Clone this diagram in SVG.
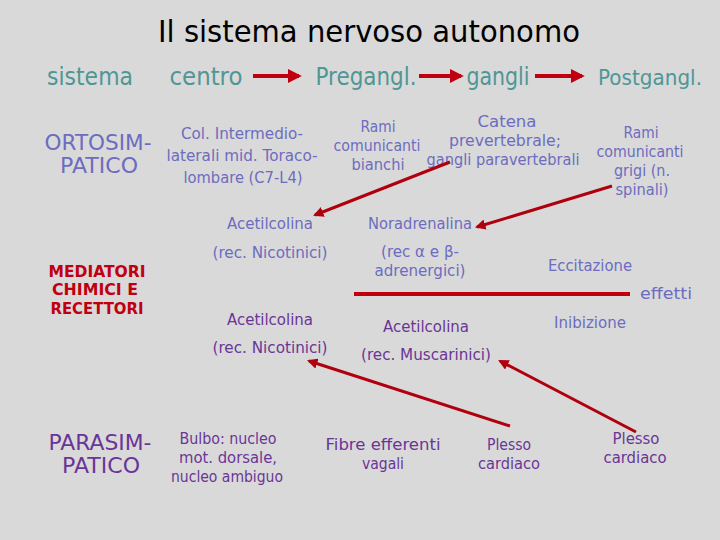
<svg xmlns="http://www.w3.org/2000/svg" width="720" height="540" viewBox="0 0 720 540">
<style>
text{font-family:"Comic Sans MS","DejaVu Sans",sans-serif;text-anchor:middle}
.title{font-size:31px;fill:#000}
.hd{font-size:24px;fill:#4f9696}
.bl{font-size:16px;fill:#6c6cc0}
.bl20{font-size:21px;fill:#6c6cc0}
.pu{font-size:16px;fill:#6a3596}
.pu20{font-size:21px;fill:#6a3596}
.rd{font-size:16px;fill:#c00010;font-weight:bold}
.ln{stroke:#b0000e;stroke-width:3;fill:none}
.big{stroke:#c0000e;stroke-width:4;fill:none}
</style>
<defs>
<marker id="ah" viewBox="0 0 10 10" refX="8" refY="5" markerWidth="3.5" markerHeight="3.5" orient="auto" markerUnits="strokeWidth">
<path d="M0,0 L10,5 L0,10 z" fill="#b0000e"/>
</marker>
<marker id="ahb" viewBox="0 0 10 10" refX="8" refY="5" markerWidth="3.5" markerHeight="3.5" orient="auto" markerUnits="strokeWidth">
<path d="M0,0 L10,5 L0,10 z" fill="#c0000e"/>
</marker>
</defs>
<rect width="720" height="540" fill="#d9d9d9"/>
<text class="title" x="369" y="42" textLength="422" lengthAdjust="spacingAndGlyphs">Il sistema nervoso autonomo</text>
<g id="header">
<text class="hd" x="90" y="85" textLength="86" lengthAdjust="spacingAndGlyphs">sistema</text>
<text class="hd" x="206" y="85" textLength="73" lengthAdjust="spacingAndGlyphs">centro</text>
<text class="hd" x="366" y="85" textLength="101" lengthAdjust="spacingAndGlyphs">Pregangl.</text>
<text class="hd" x="498" y="85" textLength="63" lengthAdjust="spacingAndGlyphs">gangli</text>
<text class="hd" x="650" y="85" style="font-size:22px" textLength="104" lengthAdjust="spacingAndGlyphs">Postgangl.</text>
</g>
<g id="ortosimpatico">
<text class="bl20" x="98" y="150" textLength="107" lengthAdjust="spacingAndGlyphs">ORTOSIM-</text>
<text class="bl20" x="99" y="173" textLength="78" lengthAdjust="spacingAndGlyphs">PATICO</text>
</g>
<g id="col-intermedio">
<text class="bl" x="242" y="139" textLength="122" lengthAdjust="spacingAndGlyphs">Col. Intermedio-</text>
<text class="bl" x="242" y="161" textLength="151" lengthAdjust="spacingAndGlyphs">laterali mid. Toraco-</text>
<text class="bl" x="243" y="183" textLength="119" lengthAdjust="spacingAndGlyphs">lombare (C7-L4)</text>
</g>
<g id="rami-bianchi">
<text class="bl" x="378" y="132" textLength="35" lengthAdjust="spacingAndGlyphs">Rami</text>
<text class="bl" x="377" y="151" textLength="87" lengthAdjust="spacingAndGlyphs">comunicanti</text>
<text class="bl" x="378" y="170" textLength="53" lengthAdjust="spacingAndGlyphs">bianchi</text>
</g>
<g id="catena">
<text class="bl" x="507" y="127" textLength="59" lengthAdjust="spacingAndGlyphs">Catena</text>
<text class="bl" x="505" y="146" textLength="112" lengthAdjust="spacingAndGlyphs">prevertebrale;</text>
<text class="bl" x="503" y="165" textLength="153" lengthAdjust="spacingAndGlyphs">gangli paravertebrali</text>
</g>
<g id="rami-grigi">
<text class="bl" x="641" y="138" textLength="35" lengthAdjust="spacingAndGlyphs">Rami</text>
<text class="bl" x="640" y="157" textLength="87" lengthAdjust="spacingAndGlyphs">comunicanti</text>
<text class="bl" x="642" y="176" textLength="56" lengthAdjust="spacingAndGlyphs">grigi (n.</text>
<text class="bl" x="642" y="195" textLength="53" lengthAdjust="spacingAndGlyphs">spinali)</text>
</g>
<g id="ach-orto">
<text class="bl" x="270" y="229" textLength="86" lengthAdjust="spacingAndGlyphs">Acetilcolina</text>
<text class="bl" x="270" y="258" textLength="115" lengthAdjust="spacingAndGlyphs">(rec. Nicotinici)</text>
</g>
<g id="noradrenalina">
<text class="bl" x="420" y="229" textLength="104" lengthAdjust="spacingAndGlyphs">Noradrenalina</text>
<text class="bl" x="420" y="257" textLength="78" lengthAdjust="spacingAndGlyphs">(rec α e β-</text>
<text class="bl" x="420" y="276" textLength="91" lengthAdjust="spacingAndGlyphs">adrenergici)</text>
</g>
<g id="effetti">
<text class="bl" x="590" y="271" textLength="84" lengthAdjust="spacingAndGlyphs">Eccitazione</text>
<text class="bl" x="666" y="299" textLength="52" lengthAdjust="spacingAndGlyphs">effetti</text>
<text class="bl" x="590" y="328" textLength="72" lengthAdjust="spacingAndGlyphs">Inibizione</text>
</g>
<g id="mediatori">
<text class="rd" x="97" y="277" textLength="97" lengthAdjust="spacingAndGlyphs">MEDIATORI</text>
<text class="rd" x="95" y="295" textLength="86" lengthAdjust="spacingAndGlyphs">CHIMICI E</text>
<text class="rd" x="97" y="314" textLength="93" lengthAdjust="spacingAndGlyphs">RECETTORI</text>
</g>
<g id="ach-para-nic">
<text class="pu" x="270" y="325" textLength="86" lengthAdjust="spacingAndGlyphs">Acetilcolina</text>
<text class="pu" x="270" y="353" textLength="115" lengthAdjust="spacingAndGlyphs">(rec. Nicotinici)</text>
</g>
<g id="ach-para-musc">
<text class="pu" x="426" y="332" textLength="86" lengthAdjust="spacingAndGlyphs">Acetilcolina</text>
<text class="pu" x="426" y="360" textLength="130" lengthAdjust="spacingAndGlyphs">(rec. Muscarinici)</text>
</g>
<g id="parasimpatico">
<text class="pu20" x="100" y="450" textLength="103" lengthAdjust="spacingAndGlyphs">PARASIM-</text>
<text class="pu20" x="101" y="473" textLength="78" lengthAdjust="spacingAndGlyphs">PATICO</text>
</g>
<g id="bulbo">
<text class="pu" x="228" y="444" textLength="97" lengthAdjust="spacingAndGlyphs">Bulbo: nucleo</text>
<text class="pu" x="228" y="463" textLength="98" lengthAdjust="spacingAndGlyphs">mot. dorsale,</text>
<text class="pu" x="227" y="482" textLength="112" lengthAdjust="spacingAndGlyphs">nucleo ambiguo</text>
</g>
<g id="fibre">
<text class="pu" x="383" y="450" textLength="115" lengthAdjust="spacingAndGlyphs">Fibre efferenti</text>
<text class="pu" x="383" y="469" textLength="42" lengthAdjust="spacingAndGlyphs">vagali</text>
</g>
<g id="plesso1">
<text class="pu" x="509" y="450" textLength="44" lengthAdjust="spacingAndGlyphs">Plesso</text>
<text class="pu" x="509" y="469" textLength="62" lengthAdjust="spacingAndGlyphs">cardiaco</text>
</g>
<g id="plesso2">
<text class="pu" x="636" y="444" textLength="47" lengthAdjust="spacingAndGlyphs">Plesso</text>
<text class="pu" x="635" y="463" textLength="63" lengthAdjust="spacingAndGlyphs">cardiaco</text>
</g>
<g id="connectors">
<line class="big" x1="253" y1="76" x2="299" y2="76" marker-end="url(#ahb)"/>
<line class="big" x1="419" y1="76" x2="461" y2="76" marker-end="url(#ahb)"/>
<line class="big" x1="535" y1="76" x2="582" y2="76" marker-end="url(#ahb)"/>
<line class="ln" x1="450" y1="162" x2="315" y2="215" marker-end="url(#ah)"/>
<line class="ln" x1="612" y1="186" x2="477" y2="227" marker-end="url(#ah)"/>
<line class="big" x1="354" y1="294" x2="630" y2="294"/>
<line class="ln" x1="510" y1="426" x2="309" y2="361" marker-end="url(#ah)"/>
<line class="ln" x1="636" y1="432" x2="500" y2="361" marker-end="url(#ah)"/>
</g>
</svg>
